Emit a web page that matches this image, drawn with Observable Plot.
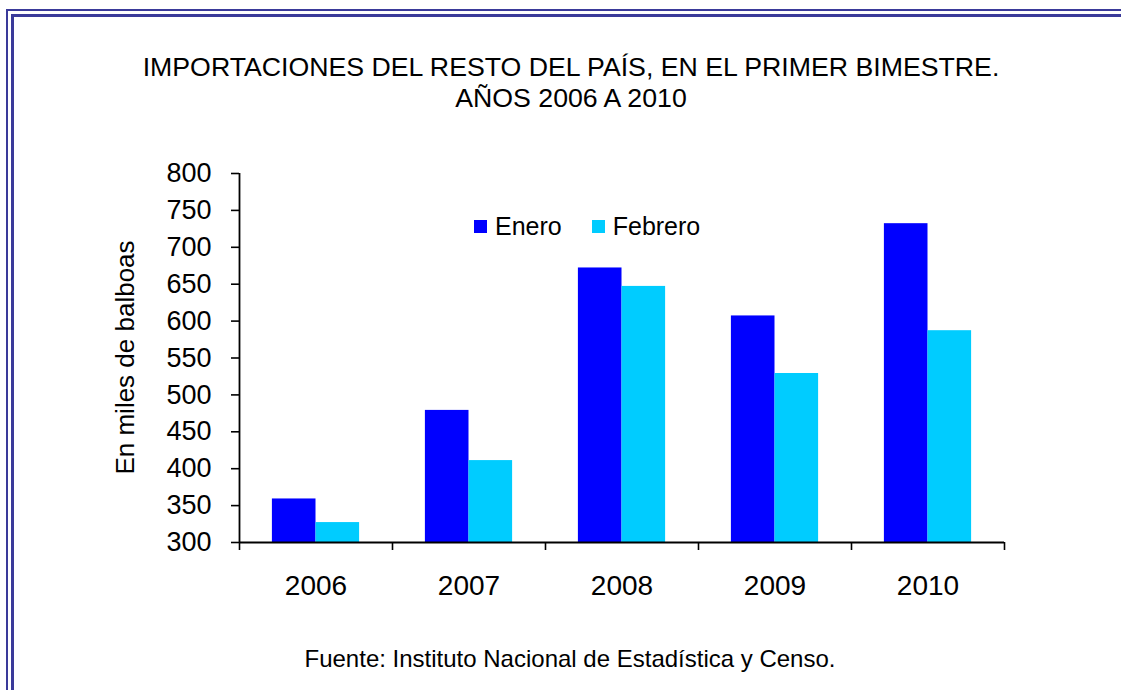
<!DOCTYPE html>
<html>
<head>
<meta charset="utf-8">
<script src="https://cdn.jsdelivr.net/npm/d3@7"></script>
<script src="https://cdn.jsdelivr.net/npm/@observablehq/plot@0.6"></script>
<style>
  html, body { margin: 0; padding: 0; background: #fff; }
  #wrap { position: relative; width: 1121px; height: 690px; overflow: hidden; font-family: "Liberation Sans", Arial, sans-serif; color: #000; }
  .border-outer { position: absolute; left: 6px; top: 9px; width: 2000px; height: 2000px; border-left: 2px solid #3a3a9a; border-top: 2px solid #3a3a9a; }
  .border-inner { position: absolute; left: 11px; top: 14px; width: 2000px; height: 2000px; border-left: 3px solid #3a3a9a; border-top: 3px solid #3a3a9a; }
  #title { position: absolute; left: 0; width: 1142px; top: 52px; text-align: center; font-size: 26.7px; line-height: 31px; }
  #caption { position: absolute; left: 0; width: 1140px; top: 645px; text-align: center; font-size: 24px; line-height: 1.15; }
  #ylabel { position: absolute; left: -75px; width: 400px; top: 343px; text-align: center; font-size: 26px; line-height: 29px; transform: rotate(-90deg); transform-origin: center center; white-space: nowrap; }
  #chart { position: absolute; left: 0; top: 0; }
  #legend { position: absolute; left: 474px; top: 210px; }
  .lg-swatch { margin-right: 30px !important; }
  .lg-swatch > svg { margin-right: 8px !important; }
</style>
</head>
<body>
<div id="wrap">
  <div class="border-outer"></div>
  <div class="border-inner"></div>
  <div id="chart"></div>
  <div id="title">IMPORTACIONES DEL RESTO DEL PAÍS, EN EL PRIMER BIMESTRE.<br>AÑOS 2006 A 2010</div>
  <div id="ylabel">En miles de balboas</div>
  <div id="legend"></div>
  <div id="caption">Fuente: Instituto Nacional de Estadística y Censo.</div>
</div>
<script>
// ---- data ----
const years = [2006, 2007, 2008, 2009, 2010];
const enero = [359, 479, 672, 607, 732];
const febrero = [327, 411, 647, 529, 587];
const seriesNames = ["Enero", "Febrero"];
const seriesColors = ["#0000ff", "#00ccff"];
const yTicks = [300, 350, 400, 450, 500, 550, 600, 650, 700, 750, 800];

// ---- derived table ----
const rows = [];
years.forEach((y, i) => {
  rows.push({year: y, series: seriesNames[0], value: enero[i]});
  rows.push({year: y, series: seriesNames[1], value: febrero[i]});
});
const yDomain = [300, 800];
const xDomain = [years[0] - 0.5, years[years.length - 1] + 0.5];
const boundaries = years.map(y => y - 0.5).concat([years[years.length - 1] + 0.5]);
const barW = 0.285; // fraction of a category band per bar

const font = '"Liberation Sans", Arial, sans-serif';

const chart = Plot.plot({
  width: 1121,
  height: 690,
  marginLeft: 239,
  marginRight: 117,
  marginTop: 173,
  marginBottom: 148,
  style: {fontFamily: font, color: "#000", background: "transparent", overflow: "visible"},
  x: {domain: xDomain, axis: null},
  y: {domain: yDomain, axis: null},
  color: {domain: seriesNames, range: seriesColors},
  marks: [
    Plot.rectY(rows, {
      x1: d => d.series === seriesNames[0] ? d.year - barW : d.year,
      x2: d => d.series === seriesNames[0] ? d.year : d.year + barW,
      y1: yDomain[0],
      y2: "value",
      fill: "series"
    }),
    Plot.axisY({ticks: yTicks, tickSize: 8, tickPadding: 20, fontSize: 27, strokeWidth: 1.6, tickFormat: d => String(d), label: null}),
    Plot.axisX({ticks: boundaries, tickSize: 8, strokeWidth: 1.6, tickFormat: () => "", label: null}),
    Plot.axisX({ticks: years, tickSize: 0, tickPadding: 33, fontSize: 28, tickFormat: d => String(d), label: null}),
    Plot.ruleY([yDomain[0]], {stroke: "#000", strokeWidth: 1.8}),
    Plot.ruleX([xDomain[0]], {stroke: "#000", strokeWidth: 1.8})
  ]
});
document.getElementById("chart").appendChild(chart);

const legend = Plot.legend({
  color: {domain: seriesNames, range: seriesColors},
  legend: "swatches",
  swatchSize: 13,
  className: "lg",
  style: {fontSize: "25px", fontFamily: font, color: "#000", margin: "0"}
});
document.getElementById("legend").appendChild(legend);
</script>
</body>
</html>
